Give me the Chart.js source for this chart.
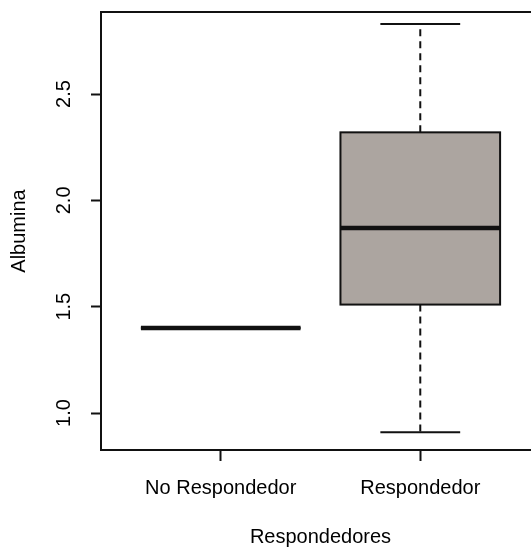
<!DOCTYPE html>
<html>
<head>
<meta charset="utf-8">
<title>Albumina por grupo de respuesta</title>
<script src="https://cdn.jsdelivr.net/npm/chart.js@4/dist/chart.umd.min.js"></script>
<style>
  html, body { margin: 0; padding: 0; background: #ffffff; overflow: hidden; }
  canvas { display: block; }
</style>
</head>
<body>
<canvas id="boxplot" width="544" height="549"></canvas>
<script>
// Group names and five-number summaries of albumina per group
const categories   = ['No Respondedor', 'Respondedor'];
const whiskerLow   = [1.40, 0.91];
const quartile1    = [1.40, 1.51];
const medians      = [1.40, 1.87];
const quartile3    = [1.40, 2.32];
const whiskerHigh  = [1.40, 2.83];
const yTicks       = [1.0, 1.5, 2.0, 2.5];

const INK = '#111111';
const BOX_FILL = 'rgb(172, 165, 160)';
const BOX_HALF = 0.4;   // half box width, in category units
const CAP_HALF = 0.2;   // half staple width, in category units

Chart.defaults.font.family = '"Liberation Sans", Arial, Helvetica, sans-serif';
Chart.defaults.font.size = 20;
Chart.defaults.color = '#000000';

// Draws boxes, whiskers, staples, medians and the plot frame from the scales
const boxPlotter = {
  id: 'boxPlotter',
  afterDatasetsDraw(chart) {
    const { ctx, chartArea, scales: { x, y } } = chart;
    const seg = (x1, y1, x2, y2) => {
      ctx.beginPath(); ctx.moveTo(x1, y1); ctx.lineTo(x2, y2); ctx.stroke();
    };
    ctx.save();
    ctx.strokeStyle = INK;
    ctx.lineCap = 'butt';
    categories.forEach((_, i) => {
      const pos = i + 1;
      const cx = x.getPixelForValue(pos);
      const bl = x.getPixelForValue(pos - BOX_HALF);
      const br = x.getPixelForValue(pos + BOX_HALF);
      const cl = x.getPixelForValue(pos - CAP_HALF);
      const cr = x.getPixelForValue(pos + CAP_HALF);
      const yLo = y.getPixelForValue(whiskerLow[i]);
      const yQ1 = y.getPixelForValue(quartile1[i]);
      const yMd = y.getPixelForValue(medians[i]);
      const yQ3 = y.getPixelForValue(quartile3[i]);
      const yHi = y.getPixelForValue(whiskerHigh[i]);

      // dashed whiskers
      ctx.lineWidth = 2;
      ctx.setLineDash([7, 5]);
      if (yHi < yQ3) seg(cx, yQ3, cx, yHi);
      if (yLo > yQ1) seg(cx, yQ1, cx, yLo);
      ctx.setLineDash([]);

      // staples
      ctx.lineWidth = 2;
      seg(cl, yHi, cr, yHi);
      seg(cl, yLo, cr, yLo);

      // box
      ctx.fillStyle = BOX_FILL;
      ctx.fillRect(bl, yQ3, br - bl, yQ1 - yQ3);
      ctx.lineWidth = 2;
      ctx.strokeRect(bl, yQ3, br - bl, yQ1 - yQ3);

      // median
      ctx.lineWidth = 4.5;
      seg(bl, yMd, br, yMd);
    });

    // plot frame
    ctx.lineWidth = 2;
    ctx.strokeRect(chartArea.left, chartArea.top,
                   chartArea.right - chartArea.left, chartArea.bottom - chartArea.top);
    ctx.restore();
  }
};

new Chart(document.getElementById('boxplot'), {
  type: 'scatter',
  data: { datasets: [] },
  plugins: [boxPlotter],
  options: {
    responsive: false,
    animation: false,
    devicePixelRatio: 1,
    layout: { padding: { left: 0, top: 12, right: 4, bottom: 0 } },
    plugins: { legend: { display: false }, tooltip: { enabled: false } },
    scales: {
      x: {
        type: 'linear',
        min: 0.4,
        max: 2.6,
        border: { display: false },
        grid: { display: true, drawOnChartArea: false, drawTicks: true,
                tickLength: 11, tickColor: INK, tickWidth: 2 },
        afterBuildTicks: (s) => { s.ticks = categories.map((_, i) => ({ value: i + 1 })); },
        afterFit: (s) => { s.height = 99; s.paddingLeft = 0; s.paddingRight = 0; },
        ticks: {
          autoSkip: false, maxRotation: 0, minRotation: 0, padding: 15, color: '#000',
          callback: (v) => categories[Math.round(v) - 1]
        },
        title: { display: true, text: 'Respondedores', color: '#000',
                 padding: { top: 0, bottom: 0 } }
      },
      y: {
        type: 'linear',
        min: 0.826,
        max: 2.886,
        border: { display: false },
        grid: { display: true, drawOnChartArea: false, drawTicks: true,
                tickLength: 10, tickColor: INK, tickWidth: 2 },
        afterBuildTicks: (s) => { s.ticks = yTicks.map(v => ({ value: v })); },
        afterFit: (s) => { s.width = 101; s.paddingTop = 0; s.paddingBottom = 0; },
        ticks: {
          minRotation: 90, maxRotation: 90, crossAlign: 'center', padding: 13, color: '#000',
          callback: (v) => Number(v).toFixed(1)
        },
        title: { display: true, text: 'Albumina', color: '#000',
                 padding: { top: 7, bottom: 0 } }
      }
    }
  }
});
</script>
</body>
</html>
